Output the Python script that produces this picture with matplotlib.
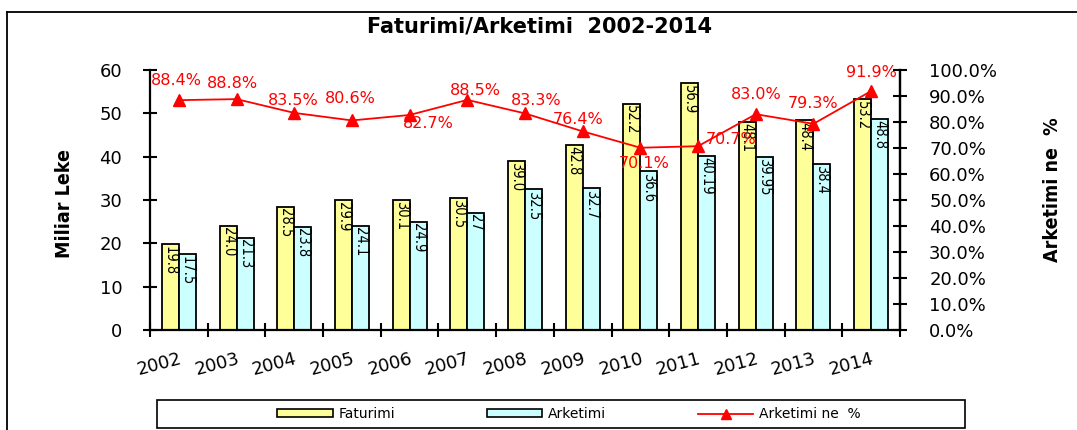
import matplotlib
matplotlib.use("Agg")
import matplotlib.pyplot as plt
from matplotlib import font_manager
from matplotlib.patches import Patch, Rectangle
from matplotlib.lines import Line2D
import numpy as np

years = ["2002", "2003", "2004", "2005", "2006", "2007", "2008",
         "2009", "2010", "2011", "2012", "2013", "2014"]
faturimi = [19.8, 24.0, 28.5, 29.9, 30.1, 30.5, 39.0, 42.8, 52.2, 56.9, 48.1, 48.4, 53.2]
arketimi = [17.5, 21.3, 23.8, 24.1, 24.9, 27, 32.5, 32.7, 36.6, 40.19, 39.95, 38.4, 48.8]
arketimi_pct = [88.4, 88.8, 83.5, 80.6, 82.7, 88.5, 83.3, 76.4, 70.1, 70.7, 83.0, 79.3, 91.9]

# label offsets (pixels) for the percentage annotations
pct_offsets = [(-2, 20), (-4, 16), (-1, 12), (-2, 22), (19, -9), (8, 9), (11, 13),
               (-5, 12), (4, -16), (33, 7), (0, 20), (0, 20), (0, 19)]

YELLOW = "#FFFF99"
CYAN = "#CCFFFF"
RED = "#FF0000"

installed = {f.name for f in font_manager.fontManager.ttflist}
NARROW = "Liberation Sans Narrow" if "Liberation Sans Narrow" in installed else "DejaVu Sans"
plt.rcParams["font.family"] = ["DejaVu Sans"]

W, H = 1077, 430
fig = plt.figure(figsize=(W / 100, H / 100), dpi=100)
ax = fig.add_axes([150 / W, 1 - 330 / H, 750 / W, 260 / H])
ax2 = ax.twinx()

x = np.arange(len(years))
bw = 0.295
ax.bar(x - bw / 2, faturimi, bw, color=YELLOW, edgecolor="black", linewidth=1.3, zorder=2)
ax.bar(x + bw / 2, arketimi, bw, color=CYAN, edgecolor="black", linewidth=1.3, zorder=2)

for xi, v in zip(x, faturimi):
    ax.annotate(f"{v:.1f}", (xi - bw / 2, v), xytext=(0, -1), textcoords="offset points",
                rotation=270, ha="center", va="top", fontsize=10.5, family=NARROW,
                fontstretch="condensed", zorder=3)
for xi, v in zip(x, arketimi):
    ax.annotate(f"{v:g}", (xi + bw / 2, v), xytext=(0, -1), textcoords="offset points",
                rotation=270, ha="center", va="top", fontsize=10.5, family=NARROW,
                fontstretch="condensed", zorder=3)

ax.set_xlim(-0.5, len(years) - 0.5)
ax.set_ylim(0, 60)
ax.set_yticks(range(0, 61, 10))
ax.set_xticks(x)
ax.set_xticklabels(years, rotation=15, ha="right", va="top", rotation_mode="anchor", fontsize=13)
ax.set_xticks(np.arange(-0.5, len(years), 1.0), minor=True)
ax.tick_params(axis="x", which="major", length=0, pad=14)
ax.tick_params(axis="x", which="minor", direction="inout", length=10, width=1.5)
ax.tick_params(axis="y", direction="inout", length=10, width=1.5, labelsize=13, pad=15)

ax2.set_ylim(0, 100)
ax2.set_yticks(range(0, 101, 10))
ax2.set_yticklabels([f"{t:.1f}%" for t in range(0, 101, 10)])
ax2.tick_params(axis="y", direction="inout", length=10, width=1.5, labelsize=13, pad=16)

for a in (ax, ax2):
    a.spines["top"].set_visible(False)
    for s in ("left", "right", "bottom"):
        a.spines[s].set_linewidth(1.6)
ax2.spines["left"].set_visible(False)
ax2.spines["bottom"].set_visible(False)

ax2.plot(x, arketimi_pct, color=RED, linewidth=1.3, marker="^", markersize=8, zorder=4)
for xi, v, (dx, dy) in zip(x, arketimi_pct, pct_offsets):
    ax2.annotate(f"{v:.1f}%", (xi, v), xytext=(dx, dy), textcoords="offset pixels",
                 ha="center", va="center", fontsize=11.5, color=RED, zorder=5)

fig.text(540 / W, 1 - 27 / H, "Faturimi/Arketimi  2002-2014", ha="center", va="center",
         fontsize=15, fontweight="bold")
fig.text(64 / W, 1 - 204 / H, "Miliar Leke", rotation=90, ha="center", va="center",
         fontsize=14, fontweight="bold", family=NARROW, fontstretch="condensed")
fig.text(1053 / W, 1 - 190 / H, "Arketimi ne  %", rotation=90, ha="center", va="center",
         fontsize=14, fontweight="bold", family=NARROW, fontstretch="condensed")

handles = [Patch(facecolor=YELLOW, edgecolor="black", linewidth=1.2),
           Patch(facecolor=CYAN, edgecolor="black", linewidth=1.2),
           Line2D([], [], color=RED, linewidth=1.3, marker="^", markersize=7)]
fig.legend(handles, ["Faturimi", "Arketimi", "Arketimi ne  %"], loc="center",
           bbox_to_anchor=(569 / W, 1 - 414 / H), ncol=3, frameon=False, fontsize=10,
           handlelength=4.0, handleheight=0.5, columnspacing=6.6, handletextpad=0.4)
fig.add_artist(Rectangle((157 / W, 1 - 428 / H), 808 / W, 28 / H, transform=fig.transFigure,
                         fill=False, edgecolor="black", linewidth=1.2))

# outer frame (top and left edges)
fig.add_artist(Line2D([7 / W, 1], [1 - 12 / H] * 2, transform=fig.transFigure,
                      color="black", linewidth=1.3))
fig.add_artist(Line2D([7 / W] * 2, [0, 1 - 12 / H], transform=fig.transFigure,
                      color="black", linewidth=1.3))

fig.savefig("out.png", dpi=100)
